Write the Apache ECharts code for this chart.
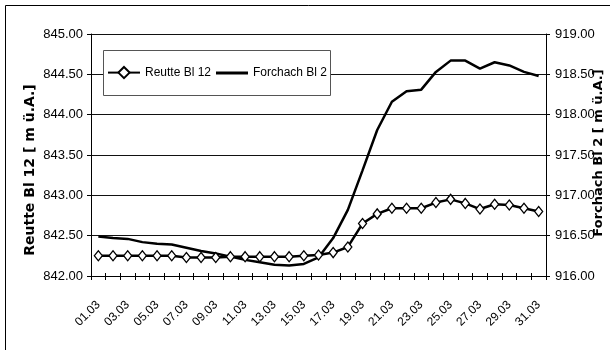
<!DOCTYPE html>
<html>
<head>
<meta charset="utf-8">
<script src="https://cdn.jsdelivr.net/npm/echarts@6/dist/echarts.min.js"></script>
<style>
  html, body { margin: 0; padding: 0; background: #fff; }
  #chart { width: 610px; height: 350px; }
</style>
</head>
<body>
<div id="chart"></div>
<script>
// Daily water levels, March
const days = ['01.03','02.03','03.03','04.03','05.03','06.03','07.03','08.03','09.03','10.03',
              '11.03','12.03','13.03','14.03','15.03','16.03','17.03','18.03','19.03','20.03',
              '21.03','22.03','23.03','24.03','25.03','26.03','27.03','28.03','29.03','30.03','31.03'];

const reutteBl12 = [842.25, 842.25, 842.25, 842.25, 842.25, 842.25, 842.23, 842.23, 842.23, 842.24,
                    842.24, 842.24, 842.24, 842.24, 842.25, 842.26, 842.29, 842.36, 842.65, 842.77,
                    842.84, 842.84, 842.84, 842.91, 842.95, 842.90, 842.83, 842.89, 842.88, 842.84, 842.80];

const forchachBl2 = [916.49, 916.47, 916.46, 916.42, 916.40, 916.39, 916.35, 916.31, 916.28, 916.24,
                     916.20, 916.17, 916.14, 916.13, 916.15, 916.23, 916.47, 916.82, 917.31, 917.81,
                     918.16, 918.29, 918.31, 918.53, 918.67, 918.67, 918.57, 918.65, 918.61, 918.53, 918.48];

const leftTicks = [842.0, 842.5, 843.0, 843.5, 844.0, 844.5, 845.0];
const rightTicks = [916.0, 916.5, 917.0, 917.5, 918.0, 918.5, 919.0];

const seriesNames = ['Reutte Bl 12', 'Forchach Bl 2'];
const leftTitle = 'Reutte Bl 12 [ m ü.A.]';
const rightTitle = 'Forchach Bl 2 [ m ü.A.]';

const labelFont = 'Liberation Sans, Arial, sans-serif';
const titleFont = 'DejaVu Sans, sans-serif';

const chart = echarts.init(document.getElementById('chart'), null, { renderer: 'canvas' });

function valueAxis(ticks, position, showSplit, margin) {
  return {
    type: 'value',
    position: position,
    min: ticks[0],
    max: ticks[ticks.length - 1],
    interval: ticks[1] - ticks[0],
    axisLine: { show: true, lineStyle: { color: '#000', width: 1 } },
    axisTick: { show: true, length: 4, lineStyle: { color: '#000' } },
    axisLabel: {
      color: '#000', fontFamily: labelFont, fontSize: 13, margin: margin,
      formatter: v => v.toFixed(2)
    },
    splitLine: { show: showSplit, lineStyle: { color: '#111', width: 1 } }
  };
}

const legendText = { color: '#000', fontFamily: labelFont, fontSize: 12 };

chart.setOption({
  animation: false,
  backgroundColor: '#fff',
  grid: { left: 91, right: 64, top: 34, bottom: 74, containLabel: false },
  legend: [
    {
      left: 107, top: 66, padding: 0, z: 6,
      data: [seriesNames[0]],
      itemWidth: 32, itemHeight: 14,
      selectedMode: false,
      textStyle: legendText
    },
    {
      left: 216, top: 66, padding: 0, z: 6,
      data: [{ name: seriesNames[1], icon: 'rect' }],
      itemWidth: 32, itemHeight: 3,
      selectedMode: false,
      textStyle: Object.assign({ height: 14, lineHeight: 14 }, legendText)
    }
  ],
  xAxis: [
    {
      type: 'category',
      data: days,
      boundaryGap: true,
      axisLine: { show: true, lineStyle: { color: '#000', width: 1 } },
      axisTick: { show: true, interval: 0, length: 4, lineStyle: { color: '#000' } },
      axisLabel: {
        interval: 1, rotate: 45, margin: 27,
        color: '#000', fontFamily: labelFont, fontSize: 12
      },
      splitLine: { show: false }
    },
    {
      // inward ticks on the same baseline, so each tick crosses the axis
      type: 'category',
      data: days,
      position: 'bottom',
      boundaryGap: true,
      axisLine: { show: false },
      axisTick: { show: true, inside: true, interval: 0, length: 3, lineStyle: { color: '#000' } },
      axisLabel: { show: false },
      splitLine: { show: false }
    }
  ],
  yAxis: [
    valueAxis(leftTicks, 'left', true, 8),
    valueAxis(rightTicks, 'right', false, 9)
  ],
  series: [
    {
      name: seriesNames[0],
      type: 'line',
      xAxisIndex: 0,
      yAxisIndex: 0,
      data: reutteBl12,
      symbol: 'diamond',
      symbolSize: [8, 10],
      showSymbol: true,
      showAllSymbol: true,
      lineStyle: { color: '#000', width: 2.5 },
      itemStyle: { color: '#fff', borderColor: '#000', borderWidth: 1.3 },
      z: 3
    },
    {
      name: seriesNames[1],
      type: 'line',
      xAxisIndex: 0,
      yAxisIndex: 1,
      data: forchachBl2,
      symbol: 'none',
      lineStyle: { color: '#000', width: 2.5 },
      itemStyle: { color: '#000' },
      z: 2
    }
  ],
  graphic: [
    {
      type: 'rect',
      shape: { x: 5.5, y: 5.5, width: 700, height: 500 },
      style: { fill: 'none', stroke: '#000', lineWidth: 1 },
      silent: true, z: 0
    },
    {
      // legend frame
      type: 'rect',
      shape: { x: 103.5, y: 50.5, width: 227, height: 45 },
      style: { fill: '#fff', stroke: '#555', lineWidth: 1 },
      silent: true, z: 5
    },
    {
      type: 'text',
      x: 30, y: 170,
      rotation: Math.PI / 2,
      style: {
        text: leftTitle, fill: '#000',
        font: 'bold 14px ' + titleFont,
        textAlign: 'center', textVerticalAlign: 'middle'
      }
    },
    {
      type: 'text',
      x: 599, y: 153,
      rotation: Math.PI / 2,
      style: {
        text: rightTitle, fill: '#000',
        font: 'bold 13px ' + titleFont,
        textAlign: 'center', textVerticalAlign: 'middle'
      }
    }
  ]
});
</script>
</body>
</html>
